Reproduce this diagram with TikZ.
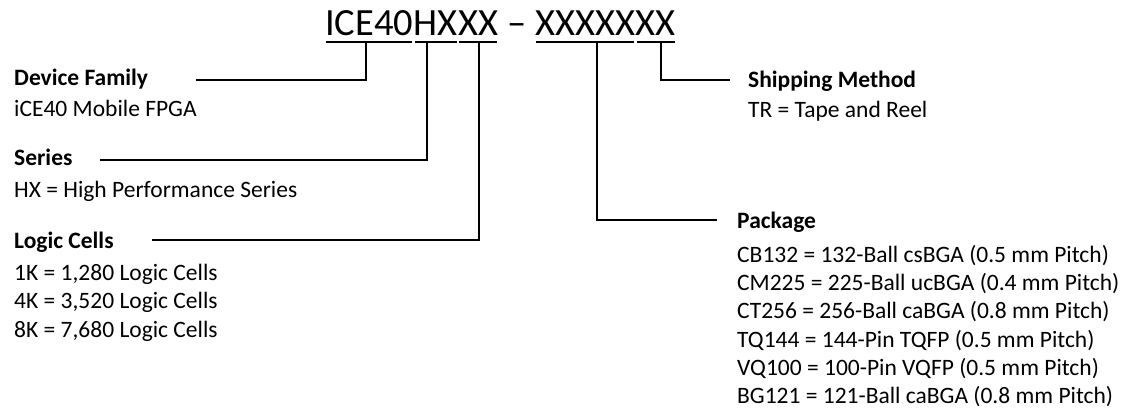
\documentclass[tikz,border=0pt]{standalone}
\usepackage{fontspec}
\setmainfont{Carlito}
\begin{document}
\begin{tikzpicture}[x=1pt,y=-1pt,
  txt/.style={anchor=base west,inner sep=0pt,font=\fontsize{23.5}{28}\selectfont},
  head/.style={txt,font=\fontsize{23.5}{28}\selectfont\bfseries},
  ttl/.style={anchor=base west,inner sep=0pt,font=\fontsize{38.5}{44}\selectfont},
  conn/.style={line width=1.7pt,black},
  uline/.style={line width=1.7pt,black}]
\useasboundingbox (0,0) rectangle (1141,410);
% title
\node[ttl] (u1) at (325,35) {ICE40};
\node[ttl] (u2) at (u1.base east) {HX};
\node[ttl] (u3) at (u2.base east) {XX};
\node[ttl] (dash) at (u3.base east) {\hspace*{0.226em}–\hspace*{0.226em}};
\node[ttl] (u4) at (dash.base east) {XXXXX};
\node[ttl] (u5) at (u4.base east) {XX};
\foreach \n in {u1,u2,u3,u4,u5}
  \draw[uline] ([xshift=1.2pt,yshift=-7pt]\n.base west) -- ([xshift=-1.2pt,yshift=-7pt]\n.base east);
% tick tops
\coordinate (t1) at (366,42);
\coordinate (t2) at (427,42);
\coordinate (t3) at (479,42);
\coordinate (t4) at (597,42);
\coordinate (t5) at (661,42);
% left column
\node[head] (df) at (14,85) {Device Family};
\node[txt] (dfd) at (14,116) {iCE40 Mobile FPGA};
\node[head] (se) at (14,165) {Series};
\node[txt] (sed) at (14,197) {HX = High Performance Series};
\node[head] (lc) at (14,248) {Logic Cells};
\node[txt] (lc1) at (14,280) {1K = 1,280 Logic Cells};
\node[txt] (lc2) at (14,308) {4K = 3,520 Logic Cells};
\node[txt] (lc3) at (14,337) {8K = 7,680 Logic Cells};
% right column
\node[head] (sm) at (748,87) {Shipping Method};
\node[txt] (smd) at (748,117) {TR = Tape and Reel};
\node[head] (pk) at (737,228) {Package};
\node[txt] (pk1) at (737,262) {CB132 = 132-Ball csBGA (0.5 mm Pitch)};
\node[txt] (pk2) at (737,290) {CM225 = 225-Ball ucBGA (0.4 mm Pitch)};
\node[txt] (pk3) at (737,318) {CT256 = 256-Ball caBGA (0.8 mm Pitch)};
\node[txt] (pk4) at (737,347) {TQ144 = 144-Pin TQFP (0.5 mm Pitch)};
\node[txt] (pk5) at (737,375) {VQ100 = 100-Pin VQFP (0.5 mm Pitch)};
\node[txt] (pk6) at (737,403) {BG121 = 121-Ball caBGA (0.8 mm Pitch)};
% connector ends
\coordinate (e1) at (196,80);
\coordinate (e2) at (100,160);
\coordinate (e3) at (152,240);
\coordinate (e4) at (717,220);
\coordinate (e5) at (730,80);
\draw[conn] (t1) |- (e1);
\draw[conn] (t2) |- (e2);
\draw[conn] (t3) |- (e3);
\draw[conn] (t4) |- (e4);
\draw[conn] (t5) |- (e5);
\end{tikzpicture}
\end{document}
